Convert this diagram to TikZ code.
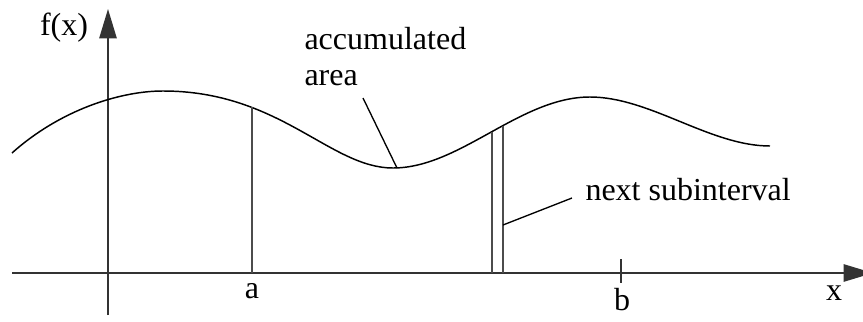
\documentclass[tikz,border=0pt]{standalone}
\usepackage{fontspec}
\setmainfont{Liberation Serif}
\usetikzlibrary{arrows.meta,positioning}

\begin{document}
\begin{tikzpicture}[x=0.375pt,y=-0.375pt,
  axis/.style={draw=black!80,line width=0.6pt},
  ordline/.style={draw=black!70,line width=0.6pt},
  curve/.style={draw,line width=0.55pt},
  leader/.style={draw,line width=0.5pt},
  lbl/.style={inner sep=0pt,font=\fontsize{12}{14}\selectfont}]
  \useasboundingbox (0,0) rectangle (863,322);
  % Axes
  \coordinate (xl) at (12,273);
  \coordinate (xr) at (873,273);
  \coordinate (yb) at (108,315);
  \coordinate (yt) at (108,9);
  \draw[axis,-{Triangle[length=11pt,width=6.5pt]}] (xl) -- (xr);
  \draw[axis,-{Triangle[length=11pt,width=6.5pt]}] (yb) -- (yt);
  % Function
  \draw[curve] (12,153) .. controls (60,110) and (120,91) .. (163,91)
    .. controls (280,91) and (330,168) .. (393,168)
    .. controls (460,168) and (520,97) .. (590,97)
    .. controls (650,97) and (710,146) .. (770,146);
  % Points on the curve
  \coordinate (fa) at (252,107.4);
  \coordinate (fs1) at (492,131.5);
  \coordinate (fs2) at (503,125.6);
  \coordinate (fmin) at (397,168);
  % Ordinates
  \draw[ordline] (fa) -- (fa |- xl);
  \draw[ordline] (fs1) -- (fs1 |- xl);
  \draw[ordline] (fs2) -- (fs2 |- xl);
  % Tick at b
  \coordinate (bt) at (621,259);
  \coordinate (bb) at (621,283);
  \draw[axis] (bt) -- (bb);
  % Labels
  \node[lbl,anchor=base] (fx) at (64,35) {f(x)};
  \node[lbl,anchor=base] (la) at (252,298) {a};
  \node[lbl,anchor=base] (lb) at (622,310) {b};
  \node[lbl,anchor=base] (lx) at (834,300) {x};
  \node[lbl,anchor=base west] (acc) at (304,49) {accumulated};
  \node[lbl,anchor=base west] (area) at (304,85) {area};
  \node[lbl,anchor=base west] (nxt) at (585,200) {next subinterval};
  % Leaders
  \coordinate (accpt) at (363,98);
  \coordinate (nxtpt) at (572,198);
  \coordinate (fs2mid) at (503,225);
  \draw[leader] (accpt) -- (fmin);
  \draw[leader] (nxtpt) -- (fs2mid);
\end{tikzpicture}
\end{document}
